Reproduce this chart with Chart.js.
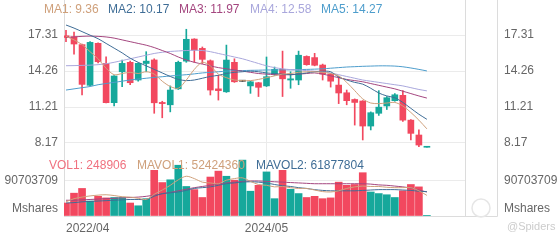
<!DOCTYPE html>
<html>
<head>
<meta charset="utf-8">
<script src="https://cdn.jsdelivr.net/npm/chart.js@4.4.0/dist/chart.umd.min.js"></script>
<style>
  html, body { margin: 0; padding: 0; background: #fff; }
</style>
</head>
<body>
<canvas id="chartK" width="560" height="240"></canvas>
<script>
// monthly candles, 2022/04 onwards
const opens  = [17.25, 17.17, 16.5, 13.05, 16.61, 14.91, 11.58, 14.2, 15.0, 13.5, 14.9, 15.2, 11.6, 11.4, 12.75, 15.1, 16.97, 16.18, 15.13, 12.75, 12.5, 15.0, 13.4, 13.0, 13.27, 13.0, 14.0, 14.4, 13.5, 13.5, 15.5, 15.4, 14.77, 14.0, 13.07, 12.42, 11.85, 11.72, 9.6, 10.68, 11.3, 11.75, 12.2, 10.1, 8.84, 7.8];
const highs  = [17.7, 17.56, 16.55, 16.75, 16.65, 15.47, 13.88, 15.19, 15.1, 14.95, 15.9, 15.3, 11.7, 13.0, 15.1, 17.8, 17.0, 16.3, 15.2, 13.9, 16.46, 15.3, 13.4, 13.4, 13.3, 15.45, 14.6, 15.95, 14.2, 15.95, 15.55, 15.76, 14.85, 14.05, 13.8, 12.65, 11.9, 11.75, 10.8, 12.6, 12.1, 12.35, 12.6, 10.15, 9.27, 7.83];
const lows   = [16.75, 15.7, 12.23, 13.0, 14.94, 11.55, 11.3, 12.93, 13.1, 13.4, 14.2, 10.68, 10.3, 10.8, 12.7, 15.0, 15.0, 14.9, 12.23, 11.8, 12.45, 13.3, 13.4, 12.37, 12.1, 12.95, 13.9, 12.1, 12.8, 13.1, 14.75, 14.7, 13.5, 12.9, 11.5, 11.4, 9.68, 8.42, 9.27, 10.5, 11.0, 11.7, 10.0, 8.42, 7.85, 7.8];
const closes = [17.1, 16.55, 13.13, 16.69, 15.05, 11.58, 13.84, 14.91, 13.27, 14.91, 15.1, 11.57, 11.5, 12.65, 15.0, 16.95, 16.04, 15.25, 12.65, 12.6, 15.19, 13.35, 13.4, 13.35, 12.88, 13.78, 14.4, 13.6, 13.6, 15.6, 14.8, 14.75, 14.0, 13.4, 12.4, 11.75, 11.6, 9.6, 10.73, 11.2, 12.0, 12.25, 10.1, 8.98, 7.99, 7.83];
const volumes = [33e6, 58e6, 70e6, 38e6, 50e6, 46e6, 47e6, 47e6, 33e6, 26e6, 44e6, 116e6, 85e6, 92e6, 129e6, 75e6, 67e6, 47e6, 99e6, 114e6, 101e6, 91e6, 142e6, 63e6, 78e6, 112e6, 44e6, 116e6, 68e6, 57e6, 47e6, 50e6, 44e6, 46e6, 86e6, 78e6, 80e6, 110e6, 61e6, 57e6, 54e6, 47e6, 64e6, 80e6, 74e6, 248906];

// moving average lines
const ma1 = [17.2, 16.9, 16.5, 15.9, 15.3, 14.5, 13.95, 14.05, 14.15, 14.05, 14.2, 14.0, 13.4, 12.95, 12.8, 13.5, 14.4, 15.0, 14.7, 14.0, 13.7, 13.5, 13.45, 13.45, 13.55, 13.7, 13.85, 14.0, 14.05, 14.15, 14.2, 14.2, 14.15, 14.05, 13.85, 13.3, 12.6, 11.9, 11.55, 11.5, 11.55, 11.6, 11.3, 10.75, 10.1, 9.36];
const ma2 = [18.16, 17.9, 17.6, 17.3, 17.0, 16.6, 16.2, 15.8, 15.35, 15.0, 14.7, 14.4, 14.1, 13.8, 13.55, 13.45, 13.5, 13.65, 13.8, 13.9, 14.05, 14.15, 14.2, 14.25, 14.2, 14.1, 14.05, 14.0, 13.95, 14.0, 14.1, 14.2, 14.25, 14.2, 13.75, 13.5, 13.3, 13.15, 12.8, 12.4, 12.15, 12.0, 11.6, 11.1, 10.6, 10.17];
const ma3 = [17.1, 17.15, 17.2, 17.22, 17.2, 17.15, 17.05, 16.9, 16.75, 16.6, 16.45, 16.25, 16.0, 15.75, 15.45, 15.2, 15.0, 14.85, 14.7, 14.55, 14.45, 14.35, 14.25, 14.15, 14.05, 14.0, 13.95, 13.95, 13.95, 14.0, 14.05, 14.1, 14.0, 13.85, 13.7, 13.55, 13.45, 13.35, 13.2, 13.05, 12.9, 12.75, 12.55, 12.35, 12.15, 11.97];
const ma4 = [14.71, 14.72, 14.74, 14.76, 14.8, 14.88, 15.0, 15.15, 15.3, 15.45, 15.6, 15.75, 15.85, 15.92, 15.96, 16.0, 16.02, 16.0, 15.9, 15.75, 15.6, 15.45, 15.3, 15.1, 14.9, 14.7, 14.55, 14.45, 14.38, 14.34, 14.3, 14.25, 14.2, 14.1, 13.95, 13.8, 13.65, 13.5, 13.4, 13.3, 13.2, 13.1, 13.0, 12.85, 12.7, 12.58];
const ma5 = [12.65, 12.75, 12.85, 12.95, 13.1, 13.2, 13.3, 13.4, 13.5, 13.58, 13.65, 13.72, 13.78, 13.84, 13.9, 13.95, 14.02, 14.1, 14.15, 14.2, 14.25, 14.3, 14.3, 14.32, 14.33, 14.35, 14.35, 14.36, 14.36, 14.38, 14.4, 14.42, 14.45, 14.5, 14.55, 14.6, 14.63, 14.66, 14.68, 14.7, 14.7, 14.68, 14.62, 14.52, 14.4, 14.27];
const mavol1 = [36e6, 44e6, 48e6, 51e6, 53e6, 54e6, 52e6, 49e6, 48e6, 45e6, 42e6, 55e6, 66e6, 78e6, 92e6, 101e6, 95e6, 86e6, 84e6, 82e6, 91e6, 95e6, 97e6, 88e6, 80e6, 78e6, 74e6, 75e6, 72e6, 70e6, 70e6, 66e6, 62e6, 61e6, 64e6, 70e6, 74e6, 76e6, 75e6, 75e6, 73e6, 72e6, 72e6, 72e6, 64e6, 52.4e6];
const mavol2 = [33e6, 34e6, 36e6, 37e6, 38e6, 39e6, 40e6, 41e6, 42e6, 42e6, 42e6, 50e6, 57e6, 59e6, 61e6, 65e6, 70e6, 72e6, 74e6, 78e6, 82e6, 84e6, 86e6, 87e6, 86e6, 84e6, 80e6, 77e6, 75e6, 72e6, 70e6, 67e6, 65e6, 64e6, 64e6, 64e6, 64e6, 65e6, 66e6, 67e6, 67e6, 67e6, 66e6, 65e6, 63e6, 61.9e6];
const mavol3 = [40e6, 40e6, 41e6, 42e6, 43e6, 44e6, 45e6, 46e6, 47e6, 48e6, 50e6, 53e6, 56e6, 60e6, 64e6, 68e6, 72e6, 75e6, 78e6, 81e6, 84e6, 86e6, 88e6, 89e6, 89e6, 88e6, 87e6, 86e6, 85e6, 84e6, 83e6, 82e6, 82e6, 82e6, 82e6, 82e6, 82e6, 82e6, 81e6, 79e6, 78e6, 76e6, 74e6, 71e6, 66e6, 61e6];

const maNames = ['MA1', 'MA2', 'MA3', 'MA4', 'MA5'];
const maLegendValues = ['9.36', '10.17', '11.97', '12.58', '14.27'];
const volNames = ['VOL1', 'MAVOL1', 'MAVOL2'];
const volLegendValues = ['248906', '52424360', '61877804'];

const priceTicks = [8.17, 11.21, 14.26, 17.31];
const volTicks = [0, 90703709];
const xTickIndex = [0, 25];
const xTickLabels = ['2022/04', '2024/05'];

const RED = '#f2485f';
const TEAL = '#16a89b';
const GRID = '#ebebeb';
const LINE = '#dcdcdc';
const maColors = ['#cfa07b', '#3f6d96', '#a4467f', '#a9a7dc', '#4d9dcc'];
const volLegendColors = ['#f0717f', '#cfa07b', '#3f6d96'];

Chart.defaults.font.family = 'Arial, "Liberation Sans", sans-serif';
Chart.defaults.font.size = 12;
Chart.defaults.color = '#666';

const pts = arr => arr.map((v, i) => ({ x: i, y: v }));
const candleColor = closes.map((c, i) => c > opens[i] ? TEAL : (c < opens[i] ? RED : '#222'));
const volColor = closes.map((c, i) => c >= opens[i] ? TEAL : RED);

function maLine(data, color, axis) {
  return {
    type: 'line', data: pts(data), yAxisID: axis, borderColor: color,
    borderWidth: 1, pointRadius: 0, tension: 0.3, order: 0
  };
}

// labels at the ends of an axis must not shrink the plot area
function noEdgePadding(s) {
  s.paddingTop = 0; s.paddingBottom = 0; s.paddingLeft = 0; s.paddingRight = 0;
}

const overlay = {
  id: 'overlay',
  afterDraw(chart) {
    const ctx = chart.ctx;
    const a = chart.chartArea;
    ctx.save();
    ctx.strokeStyle = LINE;
    ctx.lineWidth = 1;
    ctx.beginPath();
    ctx.moveTo(a.right + 32.5, 0);
    ctx.lineTo(a.right + 32.5, a.bottom + 0.5);
    ctx.lineTo(a.right, a.bottom + 0.5);
    ctx.stroke();

    // watermark
    ctx.strokeStyle = '#e6e6e6';
    ctx.lineWidth = 1.5;
    ctx.beginPath();
    ctx.arc(a.right + 16, 208, 9, 0, Math.PI * 2);
    ctx.stroke();
    ctx.fillStyle = '#cccccc';
    ctx.font = '11px Arial, "Liberation Sans", sans-serif';
    ctx.textBaseline = 'middle';
    ctx.fillText('@Spiders', a.right + 42, 227);

    // legends
    ctx.font = '12px Arial, "Liberation Sans", sans-serif';
    const x1 = [44, 108, 179, 250, 321];
    maNames.forEach((n, i) => {
      ctx.fillStyle = maColors[i];
      ctx.fillText(n + ': ' + maLegendValues[i], x1[i], 10);
    });
    const x2 = [49, 137, 256];
    volNames.forEach((n, i) => {
      ctx.fillStyle = volLegendColors[i];
      ctx.fillText(n + ': ' + volLegendValues[i], x2[i], 166);
    });
    ctx.restore();
  }
};

const yCommon = {
  type: 'linear',
  grid: { color: GRID, drawTicks: false },
  border: { color: LINE }
};

new Chart(document.getElementById('chartK'), {
  data: {
    datasets: [
      maLine(ma1, maColors[0], 'price'),
      maLine(ma2, maColors[1], 'price'),
      maLine(ma3, maColors[2], 'price'),
      maLine(ma4, maColors[3], 'price'),
      maLine(ma5, maColors[4], 'price'),
      maLine(mavol1, maColors[0], 'vol'),
      maLine(mavol2, maColors[1], 'vol'),
      maLine(mavol3, maColors[2], 'vol'),
      {
        type: 'bar', data: opens.map((o, i) => ({ x: i, y: [o, closes[i]] })),
        yAxisID: 'price', backgroundColor: candleColor, barThickness: 6,
        minBarLength: 1, grouped: false, order: 1
      },
      {
        type: 'bar', data: lows.map((l, i) => ({ x: i, y: [l, highs[i]] })),
        yAxisID: 'price', backgroundColor: candleColor, barThickness: 1,
        grouped: false, order: 2
      },
      {
        type: 'bar', data: pts(volumes), yAxisID: 'vol',
        backgroundColor: volColor, barThickness: 7, grouped: false, order: 2
      }
    ]
  },
  options: {
    responsive: false,
    animation: false,
    devicePixelRatio: 1,
    layout: { padding: 0 },
    plugins: { legend: { display: false }, tooltip: { enabled: false } },
    scales: {
      x: {
        type: 'linear', min: -0.25, max: 49.75, offset: false,
        afterBuildTicks: s => { s.ticks = xTickIndex.map(v => ({ value: v })).concat([{ value: s.max }]); },
        afterFit: s => { s.height = 24; noEdgePadding(s); },
        ticks: {
          align: 'inner', autoSkip: false, maxRotation: 0, padding: 5,
          callback: (v, i) => xTickLabels[i] || ''
        },
        grid: { offset: false, color: c => c.index === 0 ? 'rgba(0,0,0,0)' : GRID, drawTicks: false },
        border: { color: LINE }
      },
      price: {
        ...yCommon, position: 'left', stack: 'left', stackWeight: 152, weight: 1,
        min: 7.4, max: 20.28,
        afterBuildTicks: s => { s.ticks = priceTicks.map(v => ({ value: v })); },
        afterFit: s => { s.width = 64; noEdgePadding(s); },
        ticks: { padding: 6, autoSkip: false, callback: v => v.toFixed(2) }
      },
      vol: {
        ...yCommon, position: 'left', stack: 'left', stackWeight: 64, weight: 0,
        min: 0, max: 162.6e6,
        afterBuildTicks: s => { s.ticks = volTicks.map(v => ({ value: v })); },
        afterFit: s => { s.width = 64; noEdgePadding(s); },
        ticks: { padding: 6, autoSkip: false, callback: v => v === 0 ? ['Mshares', ''] : String(v) }
      },
      priceR: {
        ...yCommon, position: 'right', stack: 'right', stackWeight: 152, weight: 0,
        min: 7.4, max: 20.28, grid: { display: false },
        afterBuildTicks: s => { s.ticks = priceTicks.map(v => ({ value: v })); },
        afterFit: s => { s.width = 95; noEdgePadding(s); },
        ticks: { padding: 31, autoSkip: false, callback: v => v.toFixed(2) }
      },
      volR: {
        ...yCommon, position: 'right', stack: 'right', stackWeight: 64, weight: 1,
        min: 0, max: 162.6e6, grid: { display: false },
        afterBuildTicks: s => { s.ticks = volTicks.map(v => ({ value: v })); },
        afterFit: s => { s.width = 95; noEdgePadding(s); },
        ticks: { padding: 31, autoSkip: false, callback: v => v === 0 ? ['Mshares', ''] : String(v) }
      }
    }
  },
  plugins: [overlay]
});
</script>
</body>
</html>
